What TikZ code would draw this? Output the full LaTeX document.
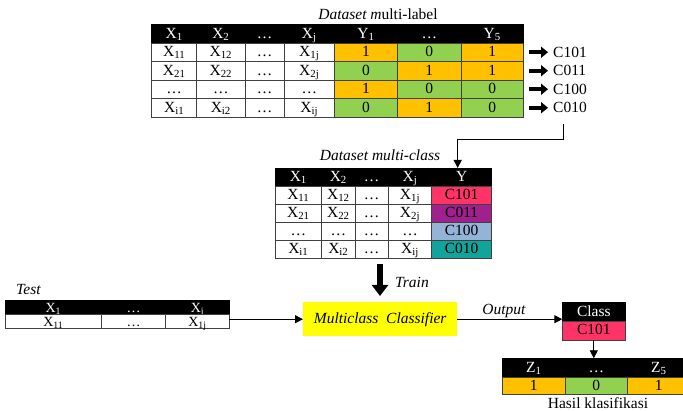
\documentclass[tikz,border=0pt]{standalone}
\usepackage{fontspec}
\setmainfont{Liberation Serif}
\usetikzlibrary{arrows.meta}
\definecolor{orng}{HTML}{FFC000}
\definecolor{grn}{HTML}{92D050}
\definecolor{pnk}{HTML}{FF3366}
\definecolor{prp}{HTML}{A0208E}
\definecolor{lblu}{HTML}{95B3D7}
\definecolor{tel}{HTML}{12A39B}
\definecolor{yel}{HTML}{FFFF00}
\definecolor{cellline}{HTML}{404040}
\tikzset{
  cellbase/.style={draw=cellline, line width=0.6pt, inner sep=0pt, outer sep=0pt,
    anchor=north west, font=\fontsize{15.5}{15.5}\selectfont, text height=10.5pt, text depth=1.5pt},
  hc/.style={cellbase, fill=black, draw=black, text=white},
  wc/.style={cellbase, fill=white},
  oc/.style={cellbase, fill=orng},
  gc/.style={cellbase, fill=grn},
  pc/.style={cellbase, fill=pnk},
  uc/.style={cellbase, fill=prp},
  bc/.style={cellbase, fill=lblu},
  tc/.style={cellbase, fill=tel},
  tight/.style={font=\fontsize{14}{14}\selectfont, text height=9.5pt, text depth=0pt},
  lbl/.style={inner sep=0pt, font=\fontsize{15.5}{15.5}\selectfont},
  ttl/.style={inner sep=0pt, font=\fontsize{15.5}{15.5}\selectfont\itshape},
  blk/.style={line width=4pt, -{Triangle[width=11pt,length=7pt]}},
  bigblk/.style={line width=6pt, -{Triangle[width=16pt,length=11pt]}},
  con/.style={line width=0.9pt, -{Triangle[width=8pt,length=8pt]}},
}
\newcommand\cel[7]{\node[#1, minimum width={#4pt-#3pt}, minimum height={#6pt-#5pt}] (#2) at (#3,#5) {#7};}
\begin{document}
\begin{tikzpicture}[x=1pt,y=-1pt]
\useasboundingbox (0,0) rectangle (683,411);
\clip (0,0) rectangle (683,411);
% ---------- multi-label dataset ----------
\node[ttl] (mltitle) at (378,14) {Dataset m\upshape ulti-label};
\cel{hc}{ml01}{151.7}{196.7}{24.5}{43}{X\textsubscript{1}}
\cel{hc}{ml02}{196.7}{245}{24.5}{43}{X\textsubscript{2}}
\cel{hc}{ml03}{245}{284.3}{24.5}{43}{…}
\cel{hc}{ml04}{284.3}{334.3}{24.5}{43}{X\textsubscript{j}}
\cel{hc}{ml05}{334.3}{397.7}{24.5}{43}{Y\textsubscript{1}}
\cel{hc}{ml06}{397.7}{461}{24.5}{43}{…}
\cel{hc}{ml07}{461}{523.3}{24.5}{43}{Y\textsubscript{5}}
%
\cel{wc}{ml11}{151.7}{196.7}{43}{61.5}{X\textsubscript{11}}
\cel{wc}{ml12}{196.7}{245}{43}{61.5}{X\textsubscript{12}}
\cel{wc}{ml13}{245}{284.3}{43}{61.5}{…}
\cel{wc}{ml14}{284.3}{334.3}{43}{61.5}{X\textsubscript{1j}}
\cel{oc}{ml15}{334.3}{397.7}{43}{61.5}{1}
\cel{gc}{ml16}{397.7}{461}{43}{61.5}{0}
\cel{oc}{ml17}{461}{523.3}{43}{61.5}{1}
%
\cel{wc}{ml21}{151.7}{196.7}{61.5}{80}{X\textsubscript{21}}
\cel{wc}{ml22}{196.7}{245}{61.5}{80}{X\textsubscript{22}}
\cel{wc}{ml23}{245}{284.3}{61.5}{80}{…}
\cel{wc}{ml24}{284.3}{334.3}{61.5}{80}{X\textsubscript{2j}}
\cel{gc}{ml25}{334.3}{397.7}{61.5}{80}{0}
\cel{oc}{ml26}{397.7}{461}{61.5}{80}{1}
\cel{oc}{ml27}{461}{523.3}{61.5}{80}{1}
%
\cel{wc}{ml31}{151.7}{196.7}{80}{98.5}{…}
\cel{wc}{ml32}{196.7}{245}{80}{98.5}{…}
\cel{wc}{ml33}{245}{284.3}{80}{98.5}{…}
\cel{wc}{ml34}{284.3}{334.3}{80}{98.5}{…}
\cel{oc}{ml35}{334.3}{397.7}{80}{98.5}{1}
\cel{gc}{ml36}{397.7}{461}{80}{98.5}{0}
\cel{gc}{ml37}{461}{523.3}{80}{98.5}{0}
%
\cel{wc}{ml41}{151.7}{196.7}{98.5}{117}{X\textsubscript{i1}}
\cel{wc}{ml42}{196.7}{245}{98.5}{117}{X\textsubscript{i2}}
\cel{wc}{ml43}{245}{284.3}{98.5}{117}{…}
\cel{wc}{ml44}{284.3}{334.3}{98.5}{117}{X\textsubscript{ij}}
\cel{gc}{ml45}{334.3}{397.7}{98.5}{117}{0}
\cel{oc}{ml46}{397.7}{461}{98.5}{117}{1}
\cel{gc}{ml47}{461}{523.3}{98.5}{117}{0}
% class labels
\node[lbl, anchor=west] (c1) at (553,52.25) {C101};
\node[lbl, anchor=west] (c2) at (553,70.75) {C011};
\node[lbl, anchor=west] (c3) at (553,89.25) {C100};
\node[lbl, anchor=west] (c4) at (553,107.75) {C010};
\foreach \i in {1,2,3,4}{
  \draw[blk] ([xshift=5.5pt]ml\i7.east) -- ([xshift=-5pt]c\i.west);
}
% ---------- multi-class dataset ----------
\node[ttl] (mctitle) at (380,155) {Dataset multi-class};
\cel{hc}{mc01}{275}{321.7}{168}{186}{X\textsubscript{1}}
\cel{hc}{mc02}{321.7}{355}{168}{186}{X\textsubscript{2}}
\cel{hc}{mc03}{355}{388.3}{168}{186}{…}
\cel{hc}{mc04}{388.3}{431.7}{168}{186}{X\textsubscript{j}}
\cel{hc}{mc05}{431.7}{491.7}{168}{186}{Y}
%
\cel{wc}{mc11}{275}{321.7}{186}{204}{X\textsubscript{11}}
\cel{wc}{mc12}{321.7}{355}{186}{204}{X\textsubscript{12}}
\cel{wc}{mc13}{355}{388.3}{186}{204}{…}
\cel{wc}{mc14}{388.3}{431.7}{186}{204}{X\textsubscript{1j}}
\cel{pc}{mc15}{431.7}{491.7}{186}{204}{C101}
%
\cel{wc}{mc21}{275}{321.7}{204}{222}{X\textsubscript{21}}
\cel{wc}{mc22}{321.7}{355}{204}{222}{X\textsubscript{22}}
\cel{wc}{mc23}{355}{388.3}{204}{222}{…}
\cel{wc}{mc24}{388.3}{431.7}{204}{222}{X\textsubscript{2j}}
\cel{uc}{mc25}{431.7}{491.7}{204}{222}{C011}
%
\cel{wc}{mc31}{275}{321.7}{222}{240}{…}
\cel{wc}{mc32}{321.7}{355}{222}{240}{…}
\cel{wc}{mc33}{355}{388.3}{222}{240}{…}
\cel{wc}{mc34}{388.3}{431.7}{222}{240}{…}
\cel{bc}{mc35}{431.7}{491.7}{222}{240}{C100}
%
\cel{wc}{mc41}{275}{321.7}{240}{258}{X\textsubscript{i1}}
\cel{wc}{mc42}{321.7}{355}{240}{258}{X\textsubscript{i2}}
\cel{wc}{mc43}{355}{388.3}{240}{258}{…}
\cel{wc}{mc44}{388.3}{431.7}{240}{258}{X\textsubscript{ij}}
\cel{tc}{mc45}{431.7}{491.7}{240}{258}{C010}
% connector multi-label -> multi-class
\coordinate (mlout) at (563,124);
\draw[con] (mlout) -- (mlout |- 0,139.5) -| ([xshift=-4pt]mc05.north);
% train arrow
\coordinate (trs) at (380,264);
\coordinate (tre) at (380,296);
\draw[bigblk] (trs) -- (tre);
\node[ttl, anchor=west] (train) at (395,282) {Train};
% ---------- classifier ----------
\node[fill=yel, minimum width=154pt, minimum height=34pt, inner sep=0pt, anchor=north west,
  font=\fontsize{15.5}{15.5}\selectfont\itshape] (clf) at (303,302) {Multiclass\ \ Classifier};
% ---------- test table ----------
\node[ttl, anchor=west] (testtitle) at (16,289.5) {Test};
\cel{hc,tight}{ts01}{5}{101.7}{300.5}{314.5}{X\textsubscript{1}}
\cel{hc,tight}{ts02}{101.7}{165.7}{300.5}{314.5}{…}
\cel{hc,tight}{ts03}{165.7}{229.3}{300.5}{314.5}{X\textsubscript{j}}
\cel{wc,tight}{ts11}{5}{101.7}{314.5}{328.5}{X\textsubscript{11}}
\cel{wc,tight}{ts12}{101.7}{165.7}{314.5}{328.5}{…}
\cel{wc,tight}{ts13}{165.7}{229.3}{314.5}{328.5}{X\textsubscript{1j}}
\draw[con] (ts13.east |- clf.west) -- (clf.west);
% ---------- class output ----------
\cel{hc}{cl0}{562.3}{625.3}{302.7}{321}{Class}
\cel{pc}{cl1}{562.3}{625.3}{321}{340}{C101}
\draw[con] (clf.east) -- (clf.east -| cl1.west);
\node[ttl] (outlbl) at (504,311) {Output};
% ---------- result ----------
\cel{hc}{zt01}{502.7}{565}{358.3}{377.3}{Z\textsubscript{1}}
\cel{hc}{zt02}{565}{627.7}{358.3}{377.3}{…}
\cel{hc}{zt03}{627.7}{690}{358.3}{377.3}{Z\textsubscript{5}}
\cel{oc}{zt11}{502.7}{565}{377.3}{394}{1}
\cel{gc}{zt12}{565}{627.7}{377.3}{394}{0}
\cel{oc}{zt13}{627.7}{690}{377.3}{394}{1}
\draw[con] (cl1.south) -- (cl1.south |- zt02.north);
\node[lbl] (hasil) at (598,403) {Hasil klasifikasi};
\end{tikzpicture}
\end{document}
